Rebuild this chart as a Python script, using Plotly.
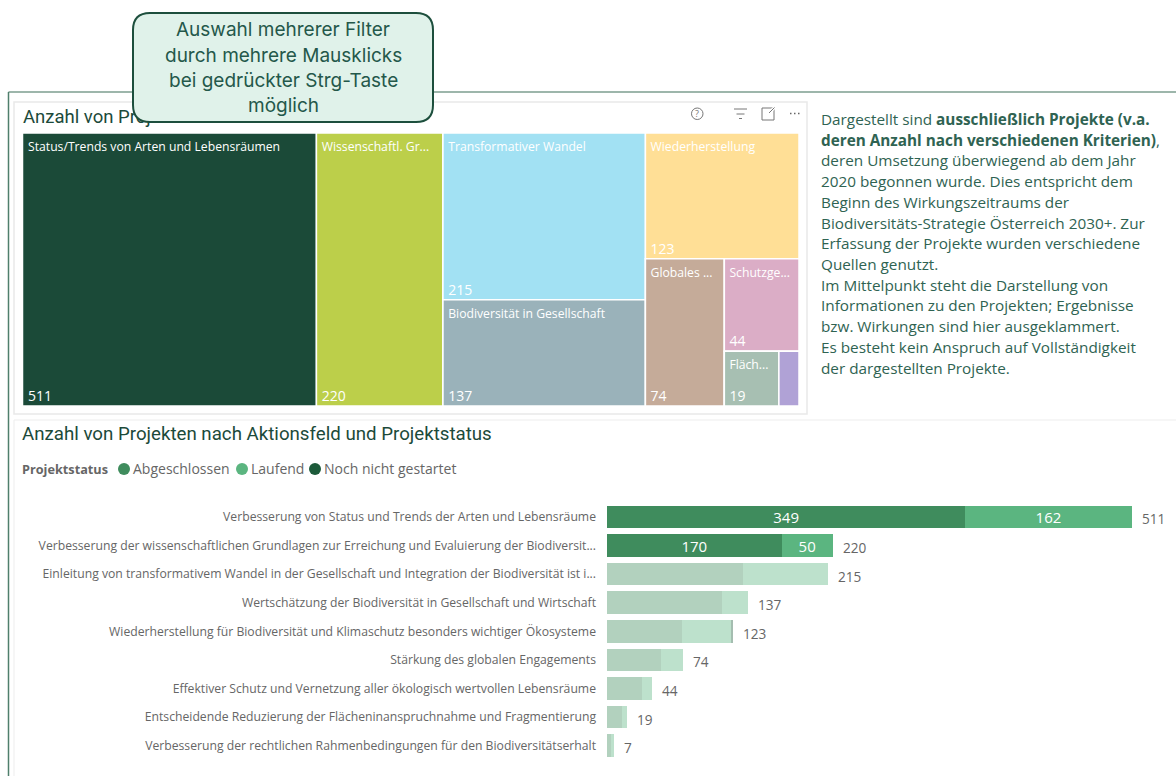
import plotly.graph_objects as go

W, H = 1176, 776

# ---------- data ----------
tree_ids = ["root", "status", "wissen", "g1", "g2", "transf", "gesell", "wieder", "g3", "global", "g4", "schutz", "g5", "flaech", "recht"]
tree_parents = ["", "root", "root", "root", "root", "g1", "g1", "g2", "g2", "g3", "g3", "g4", "g4", "g5", "g5"]
tree_values = [1350, 511, 220, 352, 267, 215, 137, 123, 144, 74, 70, 44, 26, 19, 7]
tree_names = ["", "Status/Trends von Arten und Lebensräumen", "Wissenschaftl. Gr...", "", "", "Transformativer Wandel",
              "Biodiversität in Gesellschaft", "Wiederherstellung", "", "Globales ...", "", "Schutzge...", "", "Fläch...", ""]
tree_numbers = ["", "511", "220", "", "", "215", "137", "123", "", "74", "", "44", "", "19", ""]
tree_colors = ["#FFFFFF", "#1B4A38", "#BCCF4A", "#FFFFFF", "#FFFFFF", "#A2E1F3", "#9AB2BA", "#FFDF96", "#FFFFFF",
               "#C5AB99", "#FFFFFF", "#DBADC6", "#FFFFFF", "#A7BFB2", "#B0A2D6"]

categories = [
    "Verbesserung von Status und Trends der Arten und Lebensräume",
    "Verbesserung der wissenschaftlichen Grundlagen zur Erreichung und Evaluierung der Biodiversit...",
    "Einleitung von transformativem Wandel in der Gesellschaft und Integration der Biodiversität ist i...",
    "Wertschätzung der Biodiversität in Gesellschaft und Wirtschaft",
    "Wiederherstellung für Biodiversität und Klimaschutz besonders wichtiger Ökosysteme",
    "Stärkung des globalen Engagements",
    "Effektiver Schutz und Vernetzung aller ökologisch wertvollen Lebensräume",
    "Entscheidende Reduzierung der Flächeninanspruchnahme und Fragmentierung",
    "Verbesserung der rechtlichen Rahmenbedingungen für den Biodiversitätserhalt",
]
abgeschlossen = [349, 170, 132, 112, 73, 53, 34, 15, 4]
laufend = [162, 50, 83, 25, 48, 21, 10, 4, 3]
nicht_gestartet = [0, 0, 0, 0, 2, 0, 0, 0, 0]
totals = [511, 220, 215, 137, 123, 74, 44, 19, 7]
bar_opacity = [1, 1, 0.4, 0.4, 0.4, 0.4, 0.4, 0.4, 0.4]
labelled_rows = 2

status_names = ["Abgeschlossen", "Laufend", "Noch nicht gestartet"]
status_colors = ["#3F8C5D", "#5BB580", "#1C5A3A"]

callout_lines = ["Auswahl mehrerer Filter", "durch mehrere Mausklicks", "bei gedrückter Strg-Taste", "möglich"]
para_lines = [
    "Dargestellt sind <b>ausschließlich Projekte (v.a.</b>",
    "<b>deren Anzahl nach verschiedenen Kriterien)</b>,",
    "deren Umsetzung überwiegend ab dem Jahr",
    "2020 begonnen wurde. Dies entspricht dem",
    "Beginn des Wirkungszeitraums der",
    "Biodiversitäts-Strategie Österreich 2030+. Zur",
    "Erfassung der Projekte wurden verschiedene",
    "Quellen genutzt.",
    "Im Mittelpunkt steht die Darstellung von",
    "Informationen zu den Projekten; Ergebnisse",
    "bzw. Wirkungen sind hier ausgeklammert.",
    "Es besteht kein Anspruch auf Vollständigkeit",
    "der dargestellten Projekte.",
]

BODY = "Open Sans"
TITLE = "Roboto"
DARK = "#1C4A3A"
GRAY = "#666666"


def px(x):
    return x / W


def py(y):
    return 1 - y / H


def rect(x0, y0, x1, y1, line="#E8E8E8", width=1, fill=None, **kw):
    d = dict(type="rect", xref="paper", yref="paper", x0=px(x0), x1=px(x1), y0=py(y0), y1=py(y1),
             line=dict(color=line, width=width), **kw)
    if fill:
        d["fillcolor"] = fill
    return d


def seg(x0, y0, x1, y1, color=GRAY, width=1):
    return dict(type="line", xref="paper", yref="paper", x0=px(x0), x1=px(x1), y0=py(y0), y1=py(y1),
                line=dict(color=color, width=width))


def text(x, y, s, size=14, color=GRAY, family=BODY, anchor="left"):
    return dict(xref="paper", yref="paper", x=px(x), y=py(y), text=s, showarrow=False, xanchor=anchor,
                yanchor="middle", font=dict(size=size, color=color, family=family), align=anchor)


def rounded(x0, y0, x1, y1, r):
    a, b, c, d = px(x0), px(x1), py(y0), py(y1)
    rx, ry = r / W, r / H
    return (f"M{a+rx},{c} L{b-rx},{c} Q{b},{c} {b},{c-ry} L{b},{d+ry} Q{b},{d} {b-rx},{d} "
            f"L{a+rx},{d} Q{a},{d} {a},{d+ry} L{a},{c-ry} Q{a},{c} {a+rx},{c} Z")


fig = go.Figure()

common = dict(ids=tree_ids, parents=tree_parents, values=tree_values, labels=tree_ids, branchvalues="total",
              sort=False, hoverinfo="skip", root=dict(color="rgba(0,0,0,0)"),
              pathbar=dict(visible=False), tiling=dict(packing="slice-dice", pad=0))
clear = ["rgba(0,0,0,0)"] * len(tree_ids)
no_pad = dict(t=0, l=0, r=0, b=0)
# coloured cells
fig.add_trace(go.Treemap(
    domain=dict(x=[px(22.5), px(799)], y=[py(406), py(133)]),
    text=[""] * len(tree_ids), texttemplate="%{text}",
    marker=dict(colors=tree_colors, line=dict(color="#FFFFFF", width=1.5), pad=no_pad), **common))
# category names, top left of each cell
fig.add_trace(go.Treemap(
    domain=dict(x=[px(25), px(801)], y=[py(408), py(135)]),
    text=tree_names, texttemplate="%{text}", textposition="top left",
    textfont=dict(size=12.2, color="#FFFFFF", family=BODY),
    marker=dict(colors=clear, line=dict(width=0), pad=no_pad), **common))
# counts, bottom left of each cell
fig.add_trace(go.Treemap(
    domain=dict(x=[px(25), px(801)], y=[py(408), py(135)]),
    text=tree_numbers, texttemplate="%{text}", textposition="bottom left",
    textfont=dict(size=14, color="#FFFFFF", family=BODY),
    marker=dict(colors=clear, line=dict(width=0), pad=no_pad), **common))

for name, vals, col, show in zip(status_names, [abgeschlossen, laufend, nicht_gestartet], status_colors, [True, True, False]):
    fig.add_trace(go.Bar(
        y=categories, x=vals, name=name, orientation="h", xaxis="x", yaxis="y",
        marker=dict(color=col, opacity=bar_opacity, line=dict(width=0)),
        text=[str(v) if show and i < labelled_rows else "" for i, v in enumerate(vals)],
        textposition="inside", insidetextanchor="middle", textangle=0, constraintext="none",
        textfont=dict(size=15, color="#FFFFFF", family=BODY), showlegend=False, hoverinfo="skip"))

shapes = [
    seg(8.5, 92, W, 92, "#7C9E8F", 1.5),
    seg(8.5, 92, 8.5, H, "#4F7F6C", 1.5),
    rect(14, 102, 807, 414, "#E9E9E9", 1.5),
    rect(14, 420, W + 3, H + 3, "#EDEDED", 1),
    dict(type="rect", xref="paper", yref="paper", x0=px(20), x1=px(300), y0=py(126), y1=py(104),
         line=dict(width=0), fillcolor="rgba(0,0,0,0)",
         label=dict(text="Anzahl von Projekten", textposition="middle left", padding=0,
                    font=dict(size=18.5, color=DARK, family=TITLE))),
    dict(type="path", xref="paper", yref="paper", path=rounded(133, 13, 433, 122, 17), fillcolor="#E0F2EA",
         line=dict(color="#1D4F3D", width=2)),
    # icons of the visual header
    dict(type="circle", xref="paper", yref="paper", x0=px(691.5), x1=px(703), y0=py(108), y1=py(119.5),
         line=dict(color="#777777", width=1)),
    seg(734, 109, 747, 109, "#777777"), seg(736.5, 114, 744.5, 114, "#777777"), seg(739, 118.5, 742, 118.5, "#777777"),
    rect(762, 108, 774, 120, "#777777", 1),
    seg(768, 114, 776, 106, "#FFFFFF", 3), seg(769, 113, 774.5, 107.5, "#777777"),
    seg(790, 113.5, 791.5, 113.5, "#666666", 1.5), seg(794, 113.5, 795.5, 113.5, "#666666", 1.5), seg(798, 113.5, 799.5, 113.5, "#666666", 1.5),
]
for cx, col in zip([124, 242, 315], status_colors):
    shapes.append(dict(type="circle", xref="paper", yref="paper", x0=px(cx - 6), x1=px(cx + 6), y0=py(463), y1=py(475),
                       fillcolor=col, line=dict(width=0)))

ann = [text(697.2, 113.7, "?", 9, "#777777", anchor="center")]
for i, s in enumerate(callout_lines):
    ann.append(text(283, 30 + i * 25.3, s, 19, "#24584A", "Inter", "center"))
for i, s in enumerate(para_lines):
    ann.append(text(819, 119 + i * 20.72, s, 15.3, "#2F6352"))
ann.append(text(20, 433.5, "Anzahl von Projekten nach Aktionsfeld und Projektstatus", 18.7, DARK, TITLE))
ann.append(text(20, 469, "<b>Projektstatus</b>", 12.7, GRAY))
for x, s in zip([131, 249, 322], status_names):
    ann.append(text(x, 469, s, 14, GRAY))
for c, t in zip(categories, totals):
    ann.append(dict(xref="x", yref="y", x=t, y=c, text=str(t), showarrow=False, xanchor="left", yanchor="middle",
                    xshift=8, yshift=-2, font=dict(size=13.6, color=GRAY, family=BODY)))

fig.update_layout(
    width=W, height=H, autosize=False, margin=dict(l=0, r=0, t=0, b=0, pad=0),
    paper_bgcolor="#FFFFFF", plot_bgcolor="#FFFFFF", barmode="stack", bargap=0.21, showlegend=False,
    xaxis=dict(domain=[px(607), 1], range=[0, 569 / 1.0266], visible=False, fixedrange=True),
    yaxis=dict(domain=[py(759.9), py(502.7)], autorange="reversed", showgrid=False, zeroline=False, showline=False,
               ticks="", ticklabelstandoff=10, tickfont=dict(size=12.2, color=GRAY, family=BODY), fixedrange=True,
               categoryorder="array", categoryarray=categories),
    shapes=shapes, annotations=ann,
)

fig.write_html("out.html", config=dict(displayModeBar=False),
               post_script="document.body.style.margin='0';document.body.style.overflow='hidden';")
